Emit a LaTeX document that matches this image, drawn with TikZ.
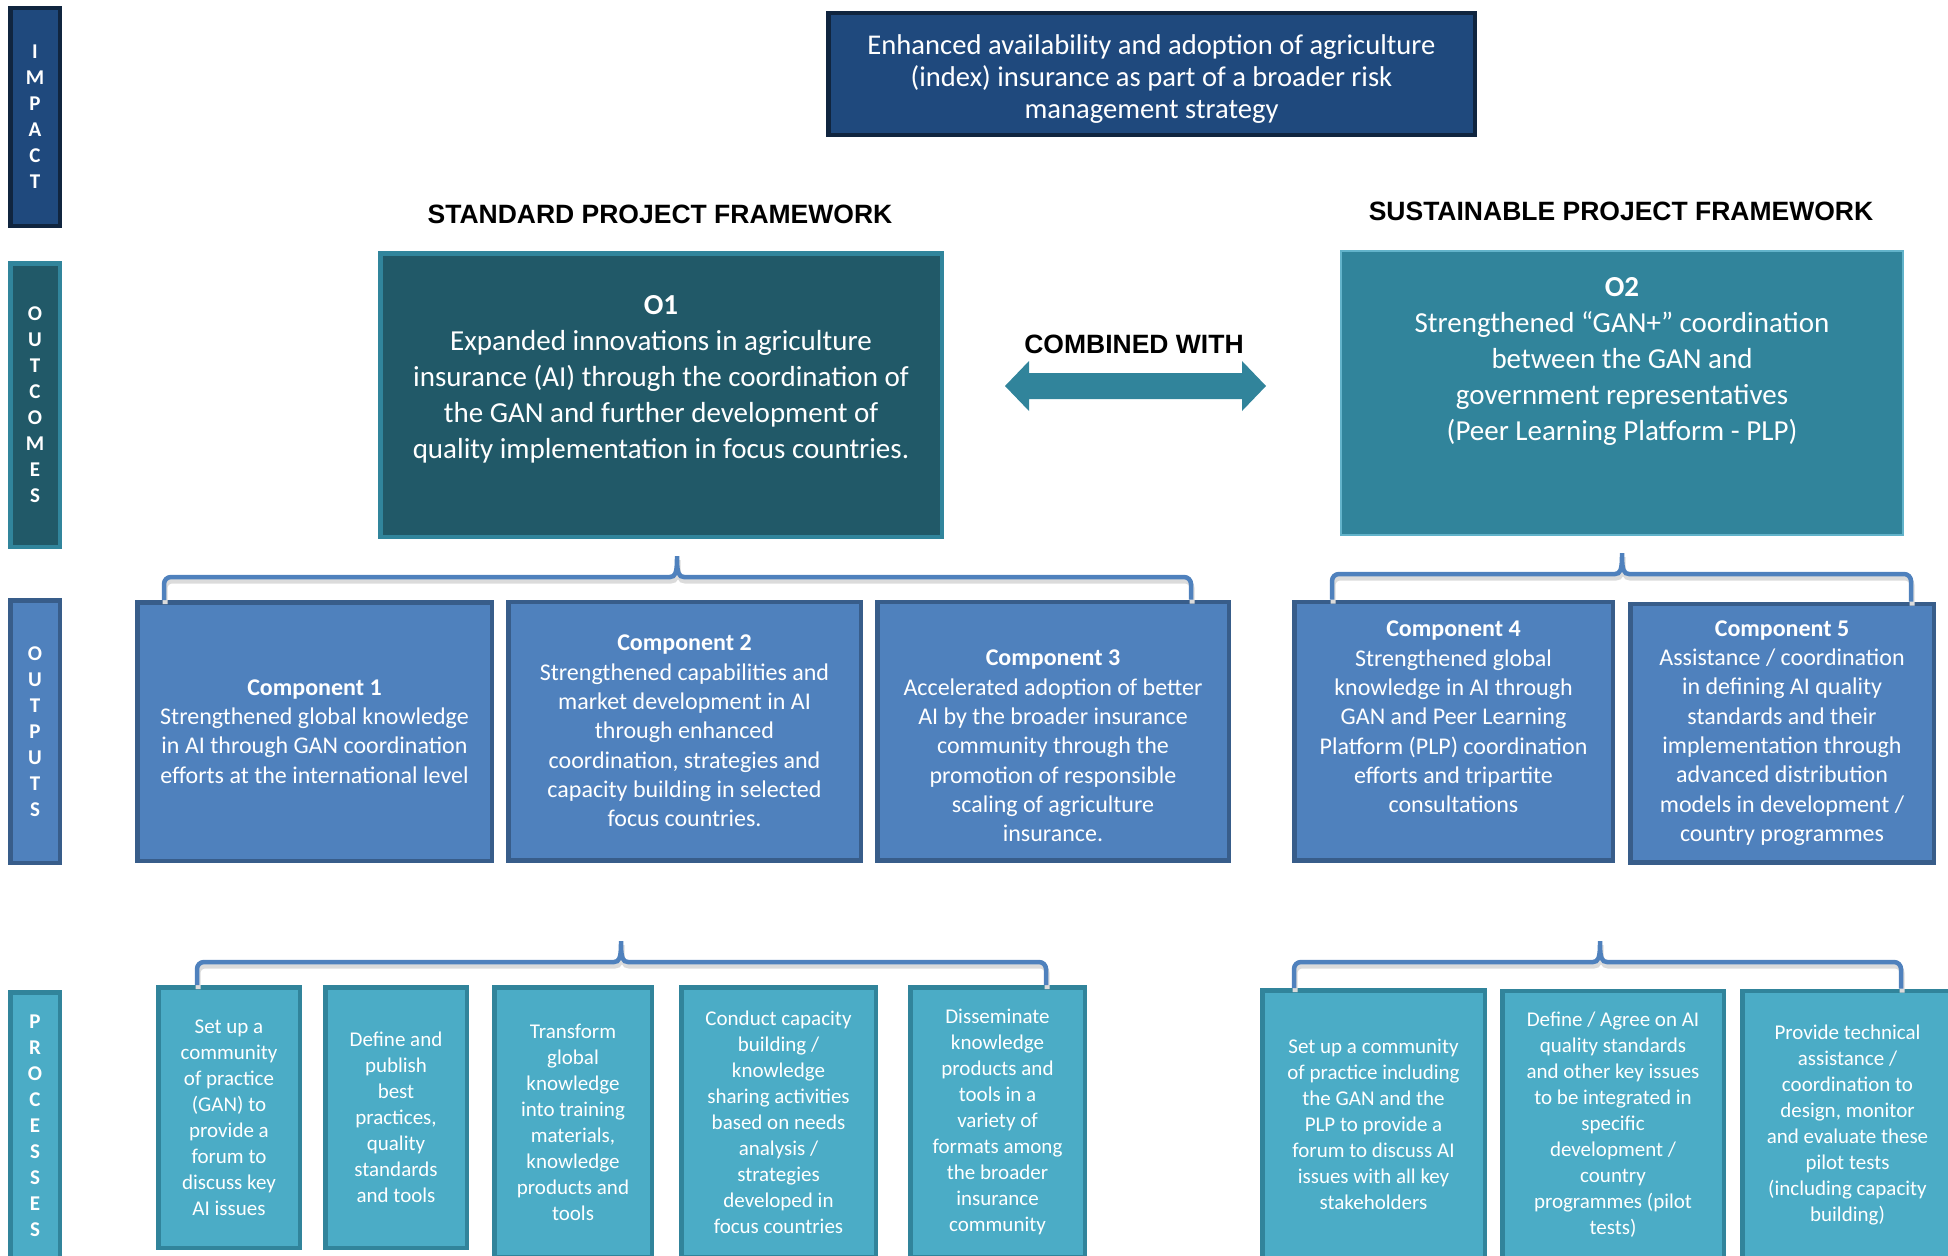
\documentclass[tikz,border=0pt]{standalone}
\usepackage{fontspec}
\setmainfont{Carlito}
\newfontfamily\headfont{Liberation Sans}
\usetikzlibrary{calc}

\definecolor{navy}{HTML}{1F497D}
\definecolor{navyedge}{HTML}{10253F}
\definecolor{petrol}{HTML}{215968}
\definecolor{petroledge}{HTML}{31859C}
\definecolor{lagoon}{HTML}{31849B}
\definecolor{lagoonedge}{HTML}{62B3CA}
\definecolor{steel}{HTML}{4F81BD}
\definecolor{steeledge}{HTML}{385D8A}
\definecolor{aqua}{HTML}{4BACC6}
\definecolor{aquaedge}{HTML}{31849B}

\tikzset{
  box/.style={draw, line width=4.5pt, inner sep=0pt, align=center, text=white},
  boxtext/.style={text=white, align=center},
  sidebar/.style={box, minimum width=49.5pt, font=\bfseries\fontsize{21}{26}\selectfont},
  impactbox/.style={box, fill=navy, draw=navyedge},
  impacttext/.style={boxtext, font=\fontsize{28.6}{32}\selectfont},
  outcomebox/.style={box, minimum width=561.5pt, minimum height=283.5pt},
  outcometext/.style={boxtext, font=\fontsize{29}{36}\selectfont},
  outputbox/.style={box, fill=steel, draw=steeledge, minimum height=258.5pt,
    font=\fontsize{24}{29.3}\selectfont},
  outputtext/.style={boxtext, font=\fontsize{24}{29.3}\selectfont},
  processbox/.style={box, fill=aqua, draw=aquaedge, font=\fontsize{21}{26}\selectfont},
  headtext/.style={font=\headfont\bfseries\fontsize{26.5}{30}\selectfont},
  bracket/.style={draw=steel, line width=4.5pt, rounded corners=7pt},
  bracketshade/.style={draw=black!14, line width=5pt, rounded corners=7pt,
    transform canvas={xshift=1pt, yshift=-4pt}}
}

% foot left, foot right, tip of the spike
\newcommand{\linkbracket}[3]{%
  \draw[bracketshade] (#1) |- ($(#3)+(-14,25)$) .. controls +(12,0) and +(0,21) .. (#3)
    .. controls +(0,21) and +(-12,0) .. ($(#3)+(14,25)$) -| (#2);
  \draw[bracket] (#1) |- ($(#3)+(-14,25)$) .. controls +(12,0) and +(0,21) .. (#3)
    .. controls +(0,21) and +(-12,0) .. ($(#3)+(14,25)$) -| (#2);}

\begin{document}
\begin{tikzpicture}[x=1pt, y=-1pt]

  \useasboundingbox (0,0) rectangle (1948,1255);

  % row labels
  \node[sidebar, fill=navy, draw=navyedge, minimum height=217.5pt] (impactside) at (35,117) {I\\M\\P\\A\\C\\T};
  \node[sidebar, fill=petrol, draw=petroledge, minimum height=283.5pt] (outcomeside) at (35,405) {O\\U\\T\\C\\O\\M\\E\\S};
  \node[sidebar, fill=steel, draw=steeledge, minimum height=262.5pt] (outputside) at (35,731.5) {O\\U\\T\\P\\U\\T\\S};
  \node[sidebar, fill=aqua, draw=aquaedge, minimum height=267.5pt] (processside) at (35,1126) {P\\R\\O\\C\\E\\S\\S\\E\\S};

  \node[impactbox, minimum width=646.5pt, minimum height=121.5pt] (impact) at (1151.5,74) {};
  \node[impacttext] (impacttxt) at (1151.5,79)
    {Enhanced availability and adoption of agriculture\\(index) insurance as part of a broader risk\\management strategy};

  \node[headtext] (stdhead) at (660,214) {STANDARD PROJECT FRAMEWORK};
  \node[headtext] (sushead) at (1621,211) {SUSTAINABLE PROJECT FRAMEWORK};

  % outcomes
  \node[outcomebox, fill=petrol, draw=petroledge] (o1) at (661,395) {};
  \node[outcometext] (o1text) at (661,379) {\textbf{O1}\\Expanded innovations in agriculture\\insurance (AI) through the coordination of\\the GAN and further development of\\quality implementation in focus countries.};
  \node[outcomebox, fill=lagoon, draw=lagoonedge, line width=2pt] (o2) at (1622,393) {};
  \node[outcometext] (o2text) at (1622,361) {\textbf{O2}\\Strengthened “GAN+” coordination\\between the GAN and\\government representatives\\(Peer Learning Platform - PLP)};

  \node[headtext] (combined) at (1134,344) {COMBINED WITH};
  \coordinate (cwl) at (1005,386);
  \coordinate (cwr) at (1266,386);
  \fill[lagoon] (cwl) -- ++(24,-25) -- ++(0,12) -- ($(cwr)+(-24,-13)$) -- ++(0,-12) -- (cwr)
    -- ++(-24,25) -- ++(0,-12) -- ($(cwl)+(24,13)$) -- ++(0,12) -- cycle;

  % outputs
  \node[outputbox, minimum width=354.5pt] (c1) at (314.5,731.5) {\textbf{Component 1}\\Strengthened global knowledge\\in AI through GAN coordination\\efforts at the international level};
  \node[outputbox, minimum width=352.5pt] (c2) at (684.5,731) {\textbf{Component 2}\\Strengthened capabilities and\\market development in AI\\through enhanced\\coordination, strategies and\\capacity building in selected\\focus countries.};
  \node[outputbox, minimum width=351.5pt] (c3) at (1053,731) {};
  \node[outputtext] (c3text) at (1053,746) {\textbf{Component 3}\\Accelerated adoption of better\\AI by the broader insurance\\community through the\\promotion of responsible\\scaling of agriculture\\insurance.};
  \node[outputbox, minimum width=318.5pt] (c4) at (1453.5,731) {};
  \node[outputtext] (c4text) at (1453.5,717) {\textbf{Component 4}\\Strengthened global\\knowledge in AI through\\GAN and Peer Learning\\Platform (PLP) coordination\\efforts and tripartite\\consultations};
  \node[outputbox, minimum width=303.5pt] (c5) at (1782,733) {\textbf{Component 5}\\Assistance / coordination\\in defining AI quality\\standards and their\\implementation through\\advanced distribution\\models in development /\\country programmes};

  % processes
  \node[processbox, minimum width=141.5pt, minimum height=260.5pt] (p1) at (229,1117.5) {Set up a\\community\\of practice\\(GAN) to\\provide a\\forum to\\discuss key\\AI issues};
  \node[processbox, minimum width=141.5pt, minimum height=260.5pt] (p2) at (396,1117.5) {Define and\\publish\\best\\practices,\\quality\\standards\\and tools};
  \node[processbox, minimum width=157.5pt, minimum height=269.5pt] (p3) at (573,1122) {Transform\\global\\knowledge\\into training\\materials,\\knowledge\\products and\\tools};
  \node[processbox, minimum width=194.5pt, minimum height=269.5pt] (p4) at (778.5,1122) {Conduct capacity\\building /\\knowledge\\sharing activities\\based on needs\\analysis /\\strategies\\developed in\\focus countries};
  \node[processbox, minimum width=174.5pt, minimum height=269.5pt] (p5) at (997.5,1122) {Disseminate\\knowledge\\products and\\tools in a\\variety of\\formats among\\the broader\\insurance\\community};
  \node[processbox, minimum width=222.5pt, minimum height=267.5pt] (p6) at (1373.5,1124) {Set up a community\\of practice including\\the GAN and the\\PLP to provide a\\forum to discuss AI\\issues with all key\\stakeholders};
  \node[processbox, minimum width=221.5pt, minimum height=267.5pt] (p7) at (1613,1124.5) {Define / Agree on AI\\quality standards\\and other key issues\\to be integrated in\\specific\\development /\\country\\programmes (pilot\\tests)};
  \node[processbox, minimum width=210.5pt, minimum height=267.5pt] (p8) at (1847.5,1124.5) {Provide technical\\assistance /\\coordination to\\design, monitor\\and evaluate these\\pilot tests\\(including capacity\\building)};

  % brackets
  \coordinate (o1spike) at (677,552);
  \coordinate (o2spike) at (1622,549);
  \coordinate (stdspike) at (621,937);
  \coordinate (susspike) at (1600,937);

  \linkbracket{[xshift=29pt]c1.north west}{[xshift=-40pt]c3.north east}{o1spike}
  \linkbracket{[xshift=40pt]c4.north west}{[xshift=-25pt]c5.north east}{o2spike}
  \linkbracket{[xshift=41pt]p1.north west}{[xshift=-41pt]p5.north east}{stdspike}
  \linkbracket{[xshift=34pt]p6.north west}{[xshift=-54pt]p8.north east}{susspike}

\end{tikzpicture}
\end{document}
